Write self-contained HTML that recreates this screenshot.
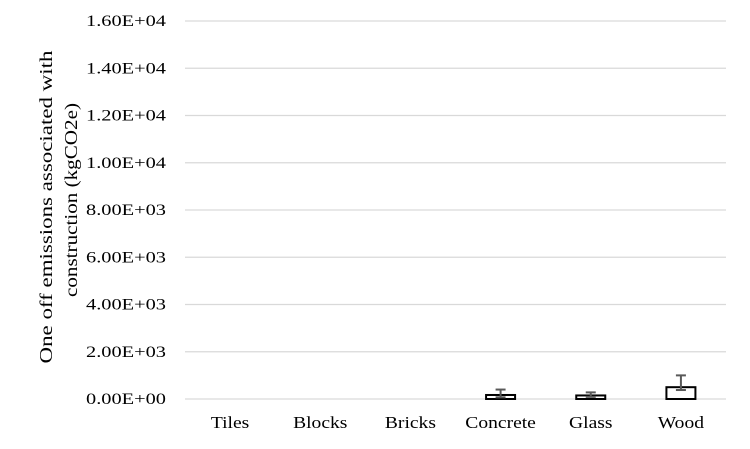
<!DOCTYPE html>
<html><head><meta charset="utf-8"><style>
html,body{margin:0;padding:0;background:#fff;}
svg{display:block;font-family:"Liberation Serif",serif;}
</style></head><body>
<svg id="chart" width="750" height="449" viewBox="0 0 750 449" xmlns="http://www.w3.org/2000/svg">
<g id="grid"></g><g id="bars"></g><g id="ylabels"></g><g id="xlabels"></g>
<text transform="translate(52,207) rotate(-90)" text-anchor="middle" font-size="18" textLength="313" lengthAdjust="spacingAndGlyphs" fill="#000">One off emissions associated with</text>
<text transform="translate(77,200) rotate(-90)" text-anchor="middle" font-size="18" textLength="194" lengthAdjust="spacingAndGlyphs" fill="#000">construction (kgCO2e)</text>
</svg>
<script>
const categories=["Tiles","Blocks","Bricks","Concrete","Glass","Wood"];
const values=[0,0,0,170,150,500];
const errorsPlus=[0,0,0,230,130,500];
const errorsMinus=[0,0,0,100,60,120];
const ticks=[0,2000,4000,6000,8000,10000,12000,14000,16000];
const tickLabels=["0.00E+00","2.00E+03","4.00E+03","6.00E+03","8.00E+03","1.00E+04","1.20E+04","1.40E+04","1.60E+04"];
const NS="http://www.w3.org/2000/svg";
const x0=185,x1=726,y0=399,y1=21,ymax=16000;
function y(v){return y0-(v/ymax)*(y0-y1);}
function xc(i){return x0+(i+0.5)*(x1-x0)/categories.length;}
function mk(t,a,p){const e=document.createElementNS(NS,t);for(const k in a)e.setAttribute(k,a[k]);p.appendChild(e);return e;}
const G=document.getElementById('grid'),B=document.getElementById('bars'),YL=document.getElementById('ylabels'),XL=document.getElementById('xlabels');
ticks.forEach((t,i)=>{
 const l=mk('line',{x1:x0,x2:x1,y1:y(t),y2:y(t),stroke:'#d9d9d9','stroke-width':1.3},G);
 
 
 const tx=mk('text',{x:166,y:y(t)+5,'text-anchor':'end','font-size':16,textLength:80,lengthAdjust:'spacingAndGlyphs'},YL);
 tx.textContent=tickLabels[i];
 
 
});
categories.forEach((c,i)=>{
 const cx=xc(i),w=29;
 if(values[i]>0){
  const r=mk('rect',{x:cx-w/2,y:y(values[i]),width:w,height:y0-y(values[i]),fill:'#fff',stroke:'#000','stroke-width':2},B);
  
  
 }
 if(errorsPlus[i]>0){
  const g=mk('g',{stroke:'#595959','stroke-width':2},B);
  
  
  const hi=y(values[i]+errorsPlus[i]),lo=y(Math.max(0,values[i]-errorsMinus[i]));
  mk('line',{x1:cx,x2:cx,y1:hi,y2:lo},g);
  mk('line',{x1:cx-5,x2:cx+5,y1:hi,y2:hi},g);
  mk('line',{x1:cx-5,x2:cx+5,y1:lo,y2:lo},g);
 }
 const t=mk('text',{x:cx,y:428,'text-anchor':'middle','font-size':17},XL);
 t.textContent=c;
 
 
 const len=t.getComputedTextLength();
 if(len>0){t.setAttribute('textLength',len*1.15);t.setAttribute('lengthAdjust','spacingAndGlyphs');}
});
</script>
</body></html>
